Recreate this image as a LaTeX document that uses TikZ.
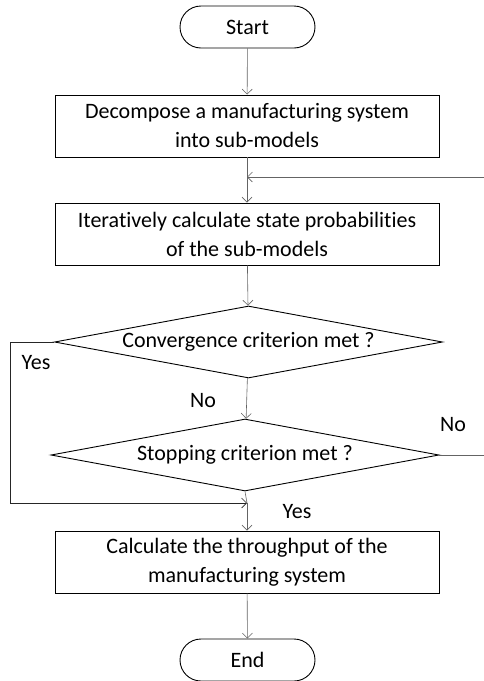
\documentclass[tikz,border=0pt]{standalone}
\usepackage{fontspec}
\setmainfont[Ligatures={NoCommon}]{Carlito}
\usetikzlibrary{shapes.geometric,arrows.meta}
\begin{document}
\begin{tikzpicture}[x=1pt,y=-1pt,
  every node/.style={font=\fontsize{22}{29}\selectfont},
  term/.style={draw=black,line width=0.9pt,rectangle,rounded corners=21pt,minimum width=135pt,minimum height=42pt,inner sep=0pt},
  proc/.style={draw=black,line width=0.9pt,rectangle,minimum width=384pt,minimum height=62pt,inner sep=0pt,align=center},
  dec/.style={draw=black,line width=0.9pt,diamond,aspect=5.4,minimum width=388pt,minimum height=72pt,inner sep=0pt},
  conn/.style={draw={rgb,255:red,100;green,100;blue,100},line width=0.6pt,-{Straight Barb[length=5pt,width=10pt]}},
  plain/.style={draw={rgb,255:red,100;green,100;blue,100},line width=0.6pt},
  lab/.style={inner sep=0pt}]
\useasboundingbox (0,0) rectangle (484,681);
\node[term] (start) at (247.5,27) {Start};
\node[proc] (b1) at (247,126) {Decompose a manufacturing system\\into sub-models};
\node[proc] (b2) at (247,234) {Iteratively calculate state probabilities\\of the sub-models};
\node[dec] (d1) at (248.5,342) {Convergence criterion met ?};
\node[dec] (d2) at (245,455) {Stopping criterion met ?};
\node[proc] (b3) at (247,562) {Calculate the throughput of the\\manufacturing system};
\node[term] (end) at (247.5,660) {End};
\coordinate (fb) at (247,177);
\coordinate (yj) at (247,503);
\coordinate (rr) at (486,455);
\coordinate (ll) at (10,342);
\draw[conn] (start) -- (b1);
\draw[plain] (b1) -- (fb);
\draw[conn] (fb) -- (b2);
\draw[conn] (b2) -- (d1);
\draw[conn] (d1) -- (d2);
\draw[plain] (d2.south) -- (yj);
\draw[conn] (yj) -- (b3);
\draw[conn] (b3) -- (end);
\draw[conn,draw=black!85] (d1.west) -- (ll) |- (yj);
\draw[conn] (d2.east) -- (rr) |- (fb);
\node[lab] (y1) at (36,363) {Yes};
\node[lab] (n1) at (203,401) {No};
\node[lab] (n2) at (453,425) {No};
\node[lab] (y2) at (297,512) {Yes};
\end{tikzpicture}
\end{document}
